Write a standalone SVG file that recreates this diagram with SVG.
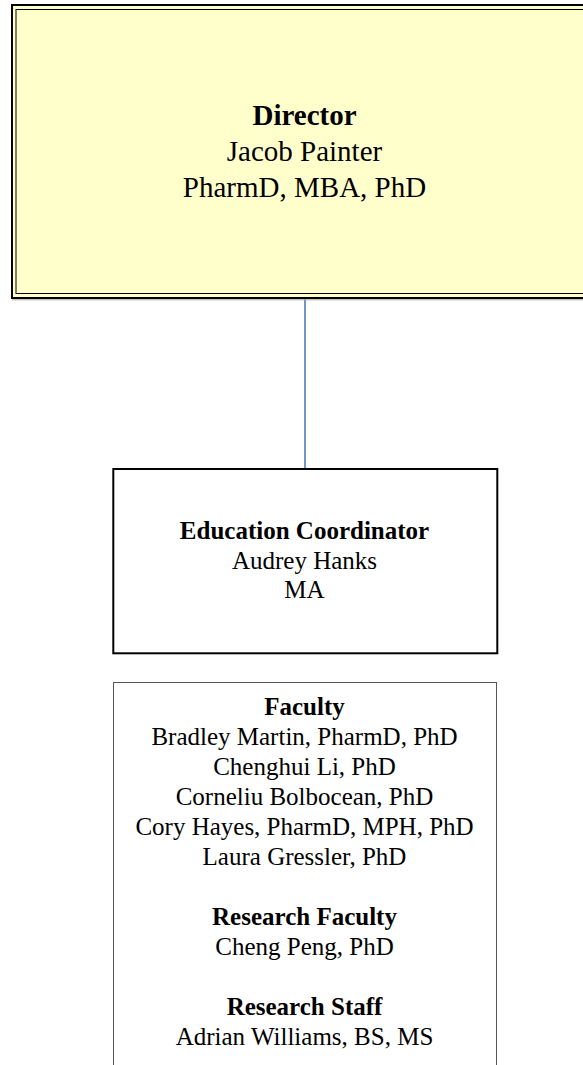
<svg xmlns="http://www.w3.org/2000/svg" width="583" height="1065" viewBox="0 0 583 1065">
<style>
text{font-family:"Liberation Serif","Times New Roman",serif;fill:#000;text-anchor:middle}
.b{font-weight:bold}
.d{font-size:29px}
.e{font-size:25px}
</style>
<rect width="583" height="1065" fill="#fff"/>
<g id="connectors">
<line x1="305" y1="299" x2="305" y2="468" stroke="#4a7ebb" stroke-width="1.6"/>
</g>
<g id="director">
<line x1="12" y1="299.8" x2="583" y2="299.8" stroke="#aaa" stroke-width="1"/>
<rect x="12" y="5" width="600" height="293" fill="#ffffcc" stroke="#000" stroke-width="2"/>
<rect x="16" y="9.5" width="600" height="284" fill="none" stroke="#000" stroke-width="1"/>
<text class="d b" x="304.5" y="125">Director</text>
<text class="d" x="304.5" y="161">Jacob Painter</text>
<text class="d" x="304.5" y="197">PharmD, MBA, PhD</text>
</g>
<g id="education">
<rect x="113.3" y="469" width="384" height="184.3" fill="#fff" stroke="#000" stroke-width="2"/>
<text class="e b" x="304.5" y="539">Education Coordinator</text>
<text class="e" x="304.5" y="568.5">Audrey Hanks</text>
<text class="e" x="304.5" y="598">MA</text>
</g>
<g id="faculty">
<rect x="113.5" y="682.5" width="383" height="400" fill="#fff" stroke="#555" stroke-width="1"/>
<text class="e b" x="304.5" y="715">Faculty</text>
<text class="e" x="304.5" y="745">Bradley Martin, PharmD, PhD</text>
<text class="e" x="304.5" y="775">Chenghui Li, PhD</text>
<text class="e" x="304.5" y="805">Corneliu Bolbocean, PhD</text>
<text class="e" x="304.5" y="835">Cory Hayes, PharmD, MPH, PhD</text>
<text class="e" x="304.5" y="865">Laura Gressler, PhD</text>
<text class="e b" x="304.5" y="925">Research Faculty</text>
<text class="e" x="304.5" y="955">Cheng Peng, PhD</text>
<text class="e b" x="304.5" y="1015">Research Staff</text>
<text class="e" x="304.5" y="1045">Adrian Williams, BS, MS</text>
</g>
</svg>
